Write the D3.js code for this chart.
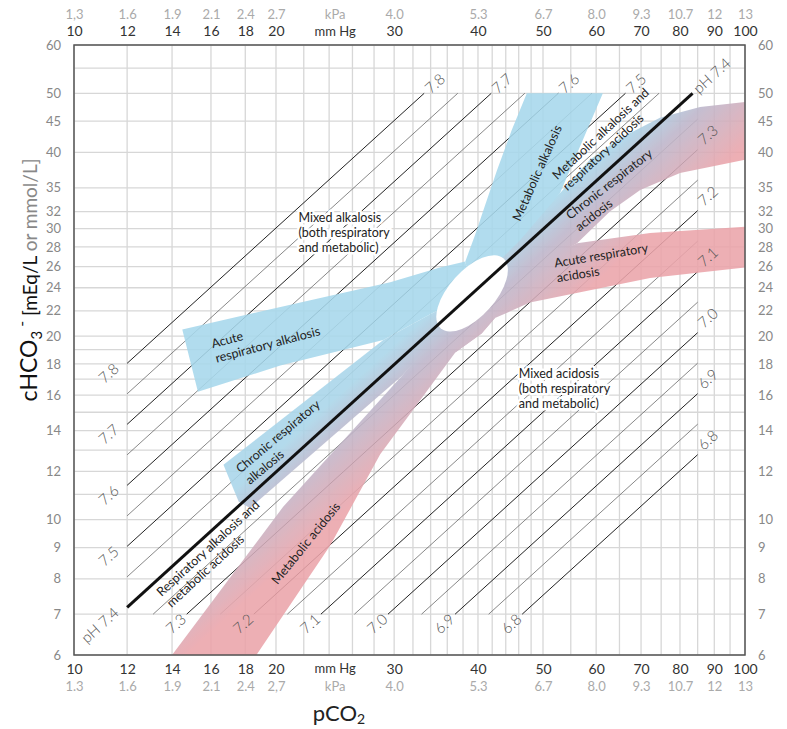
<!DOCTYPE html>
<html>
<head>
<meta charset="utf-8">
<script src="https://cdn.jsdelivr.net/npm/d3@7"></script>
<style>
  body { margin: 0; background: #fff; font-family: Lato, "Open Sans", sans-serif; }
  .tick text { font-family: Lato, "Open Sans", sans-serif; }
</style>
</head>
<body>
<div id="chart"></div>
<script>
// axis labels
const pco2Ticks = [10, 12, 14, 16, 18, 20, 30, 40, 50, 60, 70, 80, 90, 100];
const kpaTop = ["1,3", "1.6", "1.9", "2.1", "2.4", "2.7", "4.0", "5.3", "6.7", "8.0", "9.3", "10.7", "12", "13"];
const kpaBottom = ["1.3", "1.6", "1.9", "2.1", "2.4", "2,7", "4.0", "5.3", "6.7", "8.0", "9.3", "10.7", "12", "13"];
const hco3Ticks = [6, 7, 8, 9, 10, 12, 14, 16, 18, 20, 22, 24, 26, 28, 30, 32, 35, 40, 45, 50, 60];
const gridX = [10, 12, 14, 16, 18, 20, 22, 24, 26, 28, 30, 32, 34, 36, 38, 40, 42, 44, 46, 48, 50, 55, 60, 65, 70, 75, 80, 85, 90, 95, 100];
const gridY = [6, 7, 8, 9, 10, 11, 12, 13, 14, 15, 16, 17, 18, 19, 20, 22, 24, 26, 28, 30, 32, 35, 40, 45, 50, 55, 60];

// iso-pH lines
const phLabeled = [6.8, 6.9, 7.0, 7.1, 7.2, 7.3, 7.5, 7.6, 7.7, 7.8];
const phMinor = [6.85, 6.95, 7.05, 7.15, 7.25, 7.35, 7.45, 7.55, 7.65, 7.75];
const phNormal = 7.4;
const lim = { pMin: 12, pMax: 85, hMin: 7, hMax: 50 };

// regions, [pCO2 mmHg, HCO3 mmol/L]
const normalPoint = [39.2, 23.5];
const metAlk = [[47.3, 50], [61.4, 50], [53.0, 34.3], [46.2, 28.7], [41.7, 25.7], [39.2, 23.5], [38.3, 26.5], [39.6, 29.3], [41.0, 32.8], [42.7, 37.4], [44.9, 43.5]];
const acuteRespAlk = [[14.5, 20.5], [22.5, 22.9], [29.6, 24.5], [35.1, 25.9], [38.3, 26.5], [39.2, 23.5], [33.9, 21.7], [28.9, 19.7], [20.3, 17.9], [15.3, 16.2]];
const chronicRespAlk = [[16.7, 12.3], [28.9, 19.7], [33.9, 21.7], [39.2, 23.5], [35.1, 20.1], [30.8, 17.2], [18.3, 10.45], [17.6, 10.7]];
const metAcid = [[14.0, 6], [18.7, 6], [24.1, 9.08], [28.6, 12.8], [32.8, 15.7], [37.0, 18.8], [40.5, 20.2], [42.4, 21.4], [39.2, 23.5], [30.8, 17.2], [20.5, 10.5]];
const acuteRespAcid = [[56.2, 28.4], [72.2, 29.5], [100, 30.2], [100, 25.9], [72.2, 24.9], [56.8, 23.6], [47.8, 22.7], [42.4, 21.4], [40.5, 20.2], [37.0, 18.8], [39.2, 23.5], [47.8, 26.2]];
const chronicRespAcid = [[53.0, 34.3], [58.7, 38.9], [65.1, 42.2], [74.7, 45.6], [85.7, 47.5], [100, 48.4], [100, 38.9], [80, 37.0], [69.8, 34.7], [62.9, 32.0], [56.2, 28.4], [46.2, 25.2], [39.2, 23.5], [45.4, 29.3]];

// annotations: anchor [pCO2, HCO3], rotation, lines
const notes = [
  { at: [21.6, 30.8], rot: 0, lines: ["Mixed alkalosis", "(both respiratory", "and metabolic)"], halo: true },
  { at: [46.0, 17.1], rot: 0, lines: ["Mixed acidosis", "(both respiratory", "and metabolic)"], halo: true },
  { at: [16.1, 19.1], rot: -15, lines: ["Acute", "respiratory alkalosis"] },
  { at: [52.5, 36.0], rot: -43, lines: ["Metabolic alkalosis and", "respiratory acidosis"] },
  { at: [54.9, 31.0], rot: -38, lines: ["Chronic respiratory", "acidosis"] },
  { at: [52.1, 25.9], rot: -9.5, lines: ["Acute respiratory", "acidosis"] },
  { at: [17.7, 11.9], rot: -40, lines: ["Chronic respiratory", "alkalosis"] },
  { at: [13.5, 7.47], rot: -42.6, lines: ["Respiratory alkalosis and", "metabolic acidosis"] },
  { at: [20.1, 7.81], rot: -51, lines: ["Metabolic acidosis"] }
];
const metAlkNote = { at: [49.0, 37.0], rot: -66, text: "Metabolic alkalosis" };

const width = 787, height = 729;
const x = d3.scaleLog().domain([10, 100]).range([74, 745]);
const y = d3.scaleLog().domain([6, 60]).range([655, 45]);
const ang = Math.atan2(y(60) - y(6), x(100) - x(10)) * 180 / Math.PI;
const k = ph => 0.03 * Math.pow(10, ph - 6.1);

const svg = d3.select("#chart").append("svg")
  .attr("width", width).attr("height", height);

// gradient across the normal buffer line
const dirLen = Math.hypot(x(100) - x(10), y(60) - y(6));
const nx = -(y(60) - y(6)) / dirLen, ny = (x(100) - x(10)) / dirLen;
const px = x(40), py = y(k(phNormal) * 40);
const grad = svg.append("defs").append("linearGradient")
  .attr("id", "acidBase")
  .attr("gradientUnits", "userSpaceOnUse")
  .attr("x1", px - 15 * nx).attr("y1", py - 15 * ny)
  .attr("x2", px + 75 * nx).attr("y2", py + 75 * ny);
grad.append("stop").attr("offset", 0).attr("stop-color", "#a9d6ea");
grad.append("stop").attr("offset", 0.35).attr("stop-color", "#bdb6cb");
grad.append("stop").attr("offset", 1).attr("stop-color", "#eba4aa");

// grid
svg.append("g").selectAll("line").data(gridX).enter().append("line")
  .attr("x1", d => x(d)).attr("x2", d => x(d))
  .attr("y1", y(60)).attr("y2", y(6))
  .attr("stroke", "#d7d7d7").attr("stroke-width", 1.3);
svg.append("g").selectAll("line").data(gridY).enter().append("line")
  .attr("y1", d => y(d)).attr("y2", d => y(d))
  .attr("x1", x(10)).attr("x2", x(100))
  .attr("stroke", "#d7d7d7").attr("stroke-width", 1.3);

// iso lines
function ends(ph) {
  const kk = k(ph);
  const p0 = Math.max(lim.pMin, lim.hMin / kk), p1 = Math.min(lim.pMax, lim.hMax / kk);
  return [[p0, kk * p0], [p1, kk * p1]];
}
svg.append("g").selectAll("line").data(phMinor).enter().append("line")
  .attr("x1", d => x(ends(d)[0][0])).attr("y1", d => y(ends(d)[0][1]))
  .attr("x2", d => x(ends(d)[1][0])).attr("y2", d => y(ends(d)[1][1]))
  .attr("stroke", "#555").attr("stroke-width", 0.7);
svg.append("g").selectAll("line").data(phLabeled).enter().append("line")
  .attr("x1", d => x(ends(d)[0][0])).attr("y1", d => y(ends(d)[0][1]))
  .attr("x2", d => x(ends(d)[1][0])).attr("y2", d => y(ends(d)[1][1]))
  .attr("stroke", "#222").attr("stroke-width", 1);

// regions
const area = d3.line().x(d => x(d[0])).y(d => y(d[1])).curve(d3.curveLinearClosed);
const regions = svg.append("g").attr("opacity", 0.88);
[chronicRespAcid, acuteRespAcid, metAcid, chronicRespAlk].forEach(r => {
  regions.append("path").attr("d", area(r)).attr("fill", "url(#acidBase)");
});
[metAlk, acuteRespAlk].forEach(r => {
  regions.append("path").attr("d", area(r)).attr("fill", "#a7d8ec");
});

// normal zone
svg.append("ellipse")
  .attr("transform", `translate(${x(normalPoint[0])},${y(normalPoint[1])}) rotate(-48)`)
  .attr("rx", 47).attr("ry", 23).attr("fill", "#fff");

// normal buffer line pH 7.4
const e74 = ends(phNormal);
svg.append("line")
  .attr("x1", x(e74[0][0])).attr("y1", y(e74[0][1]))
  .attr("x2", x(e74[1][0])).attr("y2", y(e74[1][1]))
  .attr("stroke", "#111").attr("stroke-width", 3);

// pH labels at both ends
const phLab = svg.append("g").attr("font-size", 15).attr("fill", "#555").attr("font-weight", 300);
phLabeled.concat([phNormal]).forEach(ph => {
  const e = ends(ph);
  const t = ph === phNormal ? "pH 7.4" : ph.toFixed(1);
  const leftStart = e[0][0] === lim.pMin;
  const rightEnd = e[1][0] === lim.pMax;
  phLab.append("text")
    .attr("transform", `translate(${x(e[0][0])},${y(e[0][1])}) rotate(${ang})`)
    .attr("x", leftStart ? -10 : -4).attr("y", leftStart ? -5 : 0)
    .attr("dy", "0.35em").attr("text-anchor", "end").text(t);
  phLab.append("text")
    .attr("transform", `translate(${x(e[1][0])},${y(e[1][1])}) rotate(${ang})`)
    .attr("x", rightEnd ? 7 : 4).attr("y", rightEnd ? -4 : 0)
    .attr("dy", "0.35em").attr("text-anchor", "start").text(t);
});

// annotations
const ann = svg.append("g").attr("font-size", 12.5).attr("fill", "#222");
notes.forEach(n => {
  const t = ann.append("text")
    .attr("transform", `translate(${x(n.at[0])},${y(n.at[1])}) rotate(${n.rot})`);
  if (n.halo) t.attr("stroke", "#fff").attr("stroke-width", 5).attr("paint-order", "stroke").attr("stroke-linejoin", "round");
  n.lines.forEach((l, i) => t.append("tspan").attr("x", 0).attr("dy", i === 0 ? 0 : "1.2em").text(l));
});
ann.append("text")
  .attr("transform", `translate(${x(metAlkNote.at[0])},${y(metAlkNote.at[1])}) rotate(${metAlkNote.rot})`)
  .attr("text-anchor", "middle").attr("dy", "0.35em").text(metAlkNote.text);

// frame
svg.append("rect")
  .attr("x", x(10)).attr("y", y(60))
  .attr("width", x(100) - x(10)).attr("height", y(6) - y(60))
  .attr("fill", "none").attr("stroke", "#555").attr("stroke-width", 1.5);

// axes
function styleAxis(g, color, size) {
  g.select(".domain").remove();
  g.selectAll(".tick line").remove();
  g.selectAll(".tick text").attr("fill", color).attr("font-size", size);
}
svg.append("g").attr("transform", "translate(0,36)")
  .call(d3.axisTop(x).tickValues(pco2Ticks).tickFormat(d3.format("d")).tickSize(0).tickPadding(0))
  .call(g => styleAxis(g, "#333", 14));
svg.append("g").attr("transform", "translate(0,19)")
  .call(d3.axisTop(x).tickValues(pco2Ticks).tickFormat((d, i) => kpaTop[i]).tickSize(0).tickPadding(0))
  .call(g => styleAxis(g, "#aaa", 13));
svg.append("g").attr("transform", `translate(0,${y(6)})`)
  .call(d3.axisBottom(x).tickValues(pco2Ticks).tickFormat(d3.format("d")).tickSize(0).tickPadding(9))
  .call(g => styleAxis(g, "#333", 14));
svg.append("g").attr("transform", `translate(0,${y(6)})`)
  .call(d3.axisBottom(x).tickValues(pco2Ticks).tickFormat((d, i) => kpaBottom[i]).tickSize(0).tickPadding(27))
  .call(g => styleAxis(g, "#aaa", 13));
svg.append("g").attr("transform", `translate(${x(10)},0)`)
  .call(d3.axisLeft(y).tickValues(hco3Ticks).tickFormat(d3.format("d")).tickSize(0).tickPadding(13))
  .call(g => styleAxis(g, "#888", 13));
svg.append("g").attr("transform", `translate(${x(100)},0)`)
  .call(d3.axisRight(y).tickValues(hco3Ticks).tickFormat(d3.format("d")).tickSize(0).tickPadding(13))
  .call(g => styleAxis(g, "#888", 13));

// unit labels
const ux = x(24.5);
svg.append("text").attr("x", ux).attr("y", 36).attr("text-anchor", "middle").attr("font-size", 13).attr("fill", "#333").text("mm Hg");
svg.append("text").attr("x", ux).attr("y", 19).attr("text-anchor", "middle").attr("font-size", 13).attr("fill", "#aaa").text("kPa");
svg.append("text").attr("x", ux).attr("y", y(6) + 9).attr("dy", "0.71em").attr("text-anchor", "middle").attr("font-size", 13).attr("fill", "#333").text("mm Hg");
svg.append("text").attr("x", ux).attr("y", y(6) + 27).attr("dy", "0.71em").attr("text-anchor", "middle").attr("font-size", 13).attr("fill", "#aaa").text("kPa");

// titles
const xt = svg.append("text").attr("x", 339).attr("y", 721).attr("text-anchor", "middle")
  .attr("font-size", 22).attr("fill", "#222").text("pCO");
xt.append("tspan").attr("font-size", 14).attr("dy", 3).text("2");

const yt = svg.append("text").attr("transform", "translate(37,280) rotate(-90)")
  .attr("text-anchor", "middle").attr("fill", "#111").attr("font-size", 23).text("cHCO");
yt.append("tspan").attr("font-size", 15).attr("dy", 5).text("3");
yt.append("tspan").attr("font-size", 16).attr("dy", -15).text(" -");
yt.append("tspan").attr("font-size", 19).attr("dy", 10).text("  [mEq/L");
yt.append("tspan").attr("font-size", 19).attr("fill", "#888").text(" or mmol/L]");
</script>
</body>
</html>
